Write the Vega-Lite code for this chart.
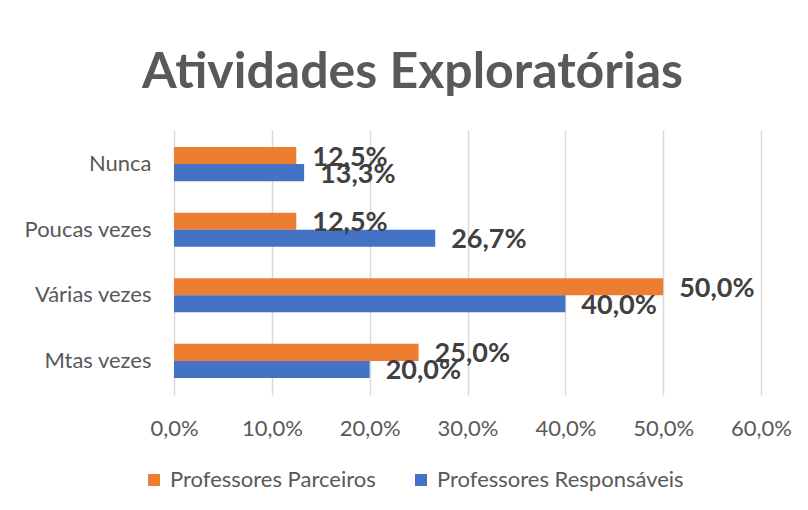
{
  "$schema": "https://vega.github.io/schema/vega-lite/v6.json",
  "width": 587,
  "height": 265,
  "autosize": {"type": "none"},
  "padding": {"left": 174, "top": 130, "right": 47, "bottom": 115},
  "background": "white",
  "title": {
    "text": "Atividades Exploratórias",
    "font": "Lato",
    "fontWeight": "bold",
    "fontSize": 50,
    "color": "#595959",
    "anchor": "middle",
    "dx": -55,
    "offset": 32
  },
  "config": {
    "locale": {"number": {"decimal": ",", "thousands": ".", "grouping": [3], "currency": ["R$", ""]}},
    "view": {"stroke": null},
    "font": "Lato"
  },
  "data": {
    "values": [
      {"categoria": "Nunca", "grupo": "Professores Parceiros", "valor": 0.125},
      {"categoria": "Nunca", "grupo": "Professores Responsáveis", "valor": 0.133},
      {"categoria": "Poucas vezes", "grupo": "Professores Parceiros", "valor": 0.125},
      {"categoria": "Poucas vezes", "grupo": "Professores Responsáveis", "valor": 0.267},
      {"categoria": "Várias vezes", "grupo": "Professores Parceiros", "valor": 0.5},
      {"categoria": "Várias vezes", "grupo": "Professores Responsáveis", "valor": 0.4},
      {"categoria": "Mtas vezes", "grupo": "Professores Parceiros", "valor": 0.25},
      {"categoria": "Mtas vezes", "grupo": "Professores Responsáveis", "valor": 0.2}
    ]
  },
  "encoding": {
    "y": {
      "field": "categoria",
      "type": "nominal",
      "sort": ["Nunca", "Poucas vezes", "Várias vezes", "Mtas vezes"],
      "scale": {"paddingInner": 0.48, "paddingOuter": 0.26},
      "axis": {
        "title": null,
        "domain": false,
        "ticks": false,
        "labelFontSize": 22,
        "labelColor": "#595959",
        "labelPadding": 23
      }
    },
    "yOffset": {
      "field": "grupo",
      "type": "nominal",
      "sort": ["Professores Parceiros", "Professores Responsáveis"]
    },
    "x": {
      "field": "valor",
      "type": "quantitative",
      "scale": {"domain": [0, 0.6], "nice": false},
      "axis": {
        "title": null,
        "format": ".1%",
        "values": [0, 0.1, 0.2, 0.3, 0.4, 0.5, 0.6],
        "domain": false,
        "ticks": false,
        "grid": true,
        "gridColor": "#d9d9d9",
        "gridWidth": 1.5,
        "labelFontSize": 22,
        "labelColor": "#595959",
        "labelPadding": 23,
        "labelFlush": false,
        "labelOverlap": false
      }
    }
  },
  "layer": [
    {
      "mark": {"type": "bar"},
      "encoding": {
        "color": {
          "field": "grupo",
          "type": "nominal",
          "scale": {
            "domain": ["Professores Parceiros", "Professores Responsáveis"],
            "range": ["#ED7D31", "#4472C4"]
          },
          "legend": {
            "title": null,
            "orient": "none",
            "direction": "horizontal",
            "legendX": -31,
            "legendY": 339,
            "padding": 0,
            "symbolType": "square",
            "symbolSize": 144,
            "symbolStrokeWidth": 0,
            "labelFontSize": 22,
            "labelLimit": 0,
            "labelColor": "#595959",
            "labelOffset": 5,
            "columnPadding": 34
          }
        }
      }
    },
    {
      "mark": {
        "type": "text",
        "align": "left",
        "baseline": "middle",
        "dx": 16,
        "dy": 2,
        "font": "Lato",
        "fontWeight": "bold",
        "fontSize": 27,
        "color": "#404040"
      },
      "encoding": {
        "text": {"field": "valor", "type": "quantitative", "format": ".1%"}
      }
    }
  ]
}
